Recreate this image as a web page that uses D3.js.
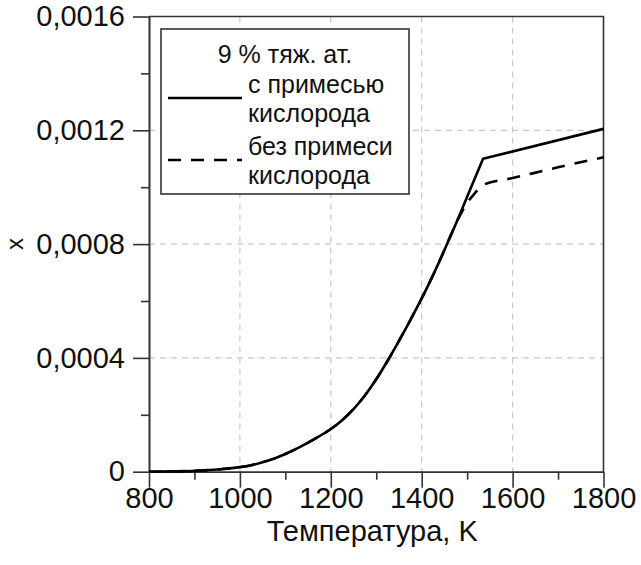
<!DOCTYPE html>
<html>
<head>
<meta charset="utf-8">
<script src="https://cdn.jsdelivr.net/npm/d3@7"></script>
<style>
  body { margin: 0; background: #fff; }
  text { font-family: "Liberation Sans", Arial, sans-serif; fill: #111; }
</style>
</head>
<body>
<div id="chart"></div>
<script>
/* data */
var tempWith = [800, 850, 900, 950, 1000, 1025, 1050, 1075, 1100, 1125, 1150, 1175, 1200, 1225, 1250, 1275, 1300, 1325, 1350, 1375, 1400, 1425, 1450, 1475, 1500, 1535, 1800];
var xWith = [0, 0.000001, 0.000003, 0.000008, 0.000016, 0.000023, 0.000033, 0.000046, 0.000062, 0.000081, 0.000102, 0.000125, 0.00015, 0.000181, 0.00022, 0.000268, 0.000325, 0.00039, 0.00046, 0.000533, 0.000609, 0.000691, 0.000779, 0.000871, 0.000966, 0.0011, 0.001205];

var tempWithout = [800, 850, 900, 950, 1000, 1025, 1050, 1075, 1100, 1125, 1150, 1175, 1200, 1225, 1250, 1275, 1300, 1325, 1350, 1375, 1400, 1425, 1450, 1475, 1500, 1515, 1535, 1600, 1700, 1800];
var xWithout = [0, 0.000001, 0.000003, 0.000008, 0.000016, 0.000023, 0.000033, 0.000046, 0.000062, 0.000081, 0.000102, 0.000125, 0.00015, 0.000181, 0.00022, 0.000268, 0.000325, 0.00039, 0.00046, 0.000533, 0.000609, 0.000691, 0.000779, 0.000871, 0.000945, 0.000975, 0.001008, 0.001032, 0.00107, 0.001105];

var xTicks = [800, 1000, 1200, 1400, 1600, 1800];
var xMinor = [900, 1100, 1300, 1500, 1700];
var yTicks = [0, 0.0004, 0.0008, 0.0012, 0.0016];
var yMinor = [0.0002, 0.0006, 0.001, 0.0014];

var legendTitle = "9 % тяж. ат.";
var legendLabels = [["с примесью", "кислорода"], ["без примеси", "кислорода"]];

// set the dimensions and margins of the graph
var margin = { top: 16.5, right: 37.5, bottom: 93.3, left: 149 },
    width = 641 - margin.left - margin.right,
    height = 565 - margin.top - margin.bottom;

var svg = d3.select("#chart")
    .append("svg")
    .attr("width", 641)
    .attr("height", 565)
    .append("g")
    .attr("transform", "translate(" + margin.left + "," + margin.top + ")");

var x = d3.scaleLinear().domain([800, 1800]).range([0, width]);
var y = d3.scaleLinear().domain([0, 0.0016]).range([height, 0]);

var fmt = function (d) { return d === 0 ? "0" : d3.format(".4f")(d).replace(".", ","); };

// grid
var grid = svg.append("g")
    .attr("stroke", "#c8c8c8")
    .attr("stroke-width", 1.2)
    .attr("stroke-dasharray", "6,5");
grid.selectAll(".gx")
    .data(xTicks.slice(1, -1))
    .join("line")
    .attr("x1", function (d) { return x(d) }).attr("x2", function (d) { return x(d) })
    .attr("y1", 0).attr("y2", height);
grid.selectAll(".gy")
    .data(yTicks.slice(1, -1))
    .join("line")
    .attr("y1", function (d) { return y(d) }).attr("y2", function (d) { return y(d) })
    .attr("x1", 0).attr("x2", width);

// axes
function styleAxis(g) {
    g.select(".domain").attr("stroke", "#333").attr("stroke-width", 1.6);
    g.selectAll(".tick line").attr("stroke", "#333").attr("stroke-width", 1.6);
    g.selectAll("text").style("font-size", "29px").attr("fill", "#111");
}

svg.append("g")
    .attr("transform", "translate(0," + height + ")")
    .call(d3.axisBottom(x).tickValues(xMinor).tickSize(8).tickSizeOuter(0).tickFormat(""))
    .call(styleAxis);
svg.append("g")
    .attr("transform", "translate(0," + height + ")")
    .call(d3.axisBottom(x).tickValues(xTicks).tickSize(16).tickSizeOuter(0).tickPadding(0).tickFormat(d3.format("d")))
    .call(styleAxis);

svg.append("g")
    .call(d3.axisLeft(y).tickValues(yMinor).tickSize(8).tickSizeOuter(0).tickFormat(""))
    .call(styleAxis);
svg.append("g")
    .call(d3.axisLeft(y).tickValues(yTicks).tickSize(16).tickSizeOuter(0).tickPadding(8).tickFormat(fmt))
    .call(styleAxis);

// frame top and right
svg.append("path")
    .attr("d", "M0,0H" + width + "V" + height)
    .attr("fill", "none")
    .attr("stroke", "#333")
    .attr("stroke-width", 1.6);

// lines: smooth part, then straight part after the kink
var smooth = d3.line()
    .x(function (d) { return x(d[0]) })
    .y(function (d) { return y(d[1]) })
    .curve(d3.curveMonotoneX);
var straight = d3.line()
    .x(function (d) { return x(d[0]) })
    .y(function (d) { return y(d[1]) });

var ptsWith = tempWith.map(function (t, i) { return [t, xWith[i]] });
var ptsWithout = tempWithout.map(function (t, i) { return [t, xWithout[i]] });
var k = tempWith.indexOf(1535);

svg.append("path")
    .attr("d", smooth(ptsWithout))
    .attr("fill", "none")
    .attr("stroke", "#000")
    .attr("stroke-width", 2.6)
    .attr("stroke-dasharray", "13,10");

svg.append("path")
    .attr("d", smooth(ptsWith.slice(0, k + 1)) + straight(ptsWith.slice(k)).replace("M", "L"))
    .attr("fill", "none")
    .attr("stroke", "#000")
    .attr("stroke-width", 2.6)
    .attr("stroke-linejoin", "round");

// axis titles
svg.append("text")
    .attr("x", width / 2 - 4)
    .attr("y", height + 69)
    .attr("text-anchor", "middle")
    .style("font-size", "29px")
    .text("Температура, K");

svg.append("text")
    .attr("transform", "translate(" + (-126) + "," + y(0.0008) + ") rotate(-90)")
    .attr("text-anchor", "middle")
    .style("font-size", "24px")
    .text("x");

// legend
var lg = svg.append("g").attr("transform", "translate(" + (161 - margin.left) + "," + (29 - margin.top) + ")");
lg.append("rect")
    .attr("width", 248)
    .attr("height", 165)
    .attr("fill", "#fff")
    .attr("stroke", "#333")
    .attr("stroke-width", 1.6);
lg.append("text")
    .attr("x", 124).attr("y", 34)
    .attr("text-anchor", "middle")
    .style("font-size", "25px")
    .text(legendTitle);

var rows = [{ y: 69, dash: null }, { y: 131, dash: "13,10" }];
rows.forEach(function (r, i) {
    lg.append("line")
        .attr("x1", 7).attr("x2", 81)
        .attr("y1", r.y).attr("y2", r.y)
        .attr("stroke", "#000")
        .attr("stroke-width", 2.6)
        .attr("stroke-dasharray", r.dash);
    lg.append("text")
        .attr("x", 87).attr("y", r.y - 5)
        .style("font-size", "25px")
        .text(legendLabels[i][0]);
    lg.append("text")
        .attr("x", 87).attr("y", r.y + 24)
        .style("font-size", "25px")
        .text(legendLabels[i][1]);
});
</script>
</body>
</html>
